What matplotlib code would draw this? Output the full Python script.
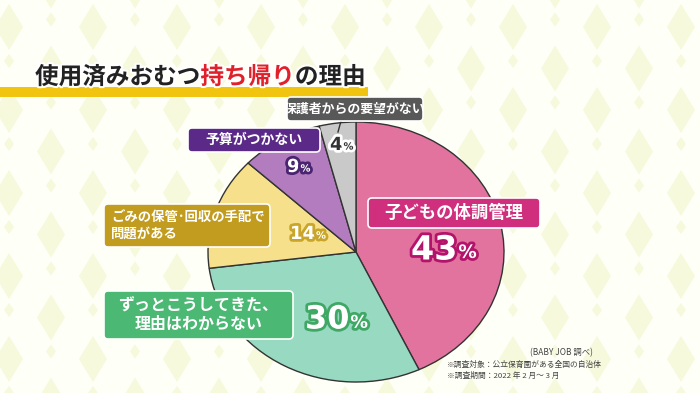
import matplotlib
matplotlib.use("Agg")
import matplotlib.pyplot as plt
import matplotlib.patheffects as pe
from matplotlib.patches import FancyBboxPatch, Polygon, Rectangle

plt.rcParams['font.family'] = ['Noto Sans CJK JP', 'DejaVu Sans']

# data
labels = ['子どもの体調管理', 'ずっとこうしてきた、\n理由はわからない', 'ごみの保管･回収の手配で\n問題がある',
          '予算がつかない', '保護者からの要望がない']
values = [43, 30, 14, 9, 4]
slice_colors = ['#e2739f', '#98d9c2', '#f6e08c', '#b27cbf', '#c9c9c9']
box_colors = ['#cf2f7c', '#4bb873', '#c29c1f', '#5b2a88', '#585858']
title_parts = [('使用済みおむつ', '#222222'), ('持ち帰り', '#e0202a'), ('の理由', '#222222')]
W, H = 700, 393

fig = plt.figure(figsize=(7, 3.93), dpi=100)
fig.patch.set_facecolor('#fefff6')

def py(y):
    return H - y

# background layer
bg = fig.add_axes([0, 0, 1, 1], zorder=0)
bg.set_xlim(0, W)
bg.set_ylim(0, H)
bg.axis('off')
for row in range(-1, 11):
    for col in range(-1, 10):
        cx = col * 84 + 9 + (42 if row % 2 else 0)
        cy = py(row * 41.5 + 27)
        bg.add_patch(Polygon([(cx, cy + 23), (cx + 14, cy), (cx, cy - 23), (cx - 14, cy)],
                             closed=True, facecolor='#f7f9dc', edgecolor='none'))
        sy = cy - 34
        bg.add_patch(Polygon([(cx, sy + 7), (cx + 5, sy), (cx, sy - 7), (cx - 5, sy)],
                             closed=True, facecolor='#f7f9dc', edgecolor='none'))

# pie (slightly flattened, as in the TV graphic)
left, right, top, bottom = 208, 504, 122, 382
pax = fig.add_axes([left / W, (H - bottom) / H, (right - left) / W, (bottom - top) / H], zorder=1)
wedges, _ = pax.pie(values, colors=slice_colors, startangle=90, counterclock=False, radius=1,
                    wedgeprops=dict(edgecolor='#333333', linewidth=1.0))
for w in wedges:
    w.set_clip_on(False)
pax.set_aspect('auto')
pax.set_xlim(-1, 1)
pax.set_ylim(-1, 1)
pax.axis('off')

# text layer
ax = fig.add_axes([0, 0, 1, 1], zorder=2)
ax.set_xlim(0, W)
ax.set_ylim(0, H)
ax.patch.set_alpha(0)
ax.axis('off')

# title
ax.add_patch(Rectangle((0, py(97)), 368, 10, facecolor='#f1c40f', edgecolor='none', zorder=1))
title_fx = [pe.withStroke(linewidth=3, foreground='white')]
fig.canvas.draw()
renderer = fig.canvas.get_renderer()
x = 35
for txt, c in title_parts:
    t = ax.text(x, py(77), txt, fontsize=17, fontweight='bold', color=c,
                va='center', ha='left', path_effects=title_fx, zorder=3)
    x += t.get_window_extent(renderer).width * W / fig.bbox.width

# leader line for 4%
ax.plot([341, 338], [py(121), py(132)], color='#333333', lw=1, zorder=3)

# label boxes: (x0, y0, x1, y1, text size)
boxes = [(368, 198, 540, 228, 12.5), (104, 291, 293, 339, 11.5), (104, 204, 270, 247, 9.6),
         (188, 128, 320, 152, 10), (287, 97, 423, 121, 9.3)]
for (x0, y0, x1, y1, fs), lab, bc in zip(boxes, labels, box_colors):
    b = FancyBboxPatch((x0, py(y1)), x1 - x0, y1 - y0, boxstyle='round,pad=0,rounding_size=4',
                       facecolor=bc, edgecolor='white', linewidth=1.2, zorder=4)
    ax.add_patch(b)
    ha = 'left' if bc == box_colors[2] else 'center'
    tx = x0 + 7 if ha == 'left' else (x0 + x1) / 2
    ax.text(tx, py((y0 + y1) / 2), lab, fontsize=fs, fontweight='bold', color='white',
            ha=ha, va='center', linespacing=1.15, zorder=5)

# percentages: (left x, center y, size, text color, stroke color)
pcts = [(411, 250, 24, 'white', '#b3136a'), (305, 320, 23, 'white', '#3fa865'),
        (290, 234, 13, 'white', '#c9a62a'), (287, 167, 13, 'white', '#4a2470'),
        (330, 145, 13, '#333333', 'white')]
for (x, y, fs, tc, sc), v in zip(pcts, values):
    fx = [pe.withStroke(linewidth=4, foreground=sc)]
    t = ax.text(x, py(y), str(v), fontsize=fs, fontweight='bold', color=tc, ha='left',
                va='center', path_effects=fx, zorder=5, family='DejaVu Sans')
    w = t.get_window_extent(renderer).width * W / fig.bbox.width
    ax.text(x + w + 1, py(y + fs * 0.12), '%', fontsize=fs * 0.55, fontweight='bold', color=tc,
            ha='left', va='center', path_effects=fx, zorder=5, family='DejaVu Sans')

# notes
ax.text(593, py(353), '(BABY JOB 調べ)', fontsize=6, color='#444444', ha='right', va='center', zorder=5)
ax.text(447, py(365), '※調査対象：公立保育園がある全国の自治体', fontsize=5.6, color='#444444',
        ha='left', va='center', zorder=5)
ax.text(447, py(376), '※調査期間：2022 年 2 月～ 3 月', fontsize=5.6, color='#444444',
        ha='left', va='center', zorder=5)

fig.savefig('out.png', dpi=100, facecolor=fig.get_facecolor())
